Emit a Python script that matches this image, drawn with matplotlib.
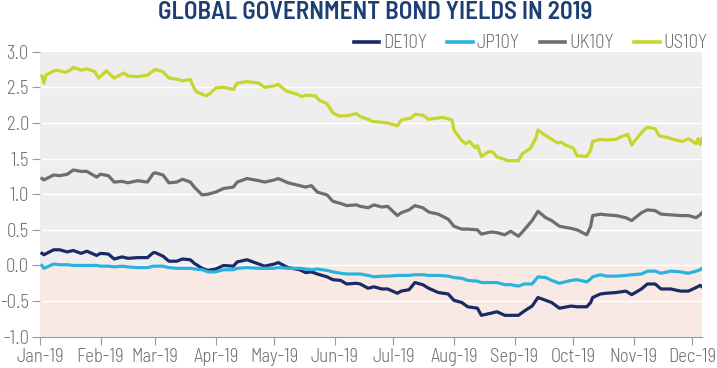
import matplotlib
matplotlib.use("Agg")
import matplotlib.pyplot as plt
import matplotlib.dates as mdates
from matplotlib import font_manager
import pandas as pd

# ---------------- data ----------------
us_dates = ["2019-01-02","2019-01-03","2019-01-04","2019-01-08","2019-01-10","2019-01-14","2019-01-17","2019-01-18",
            "2019-01-22","2019-01-25","2019-01-29","2019-01-31","2019-02-04","2019-02-08","2019-02-13","2019-02-15",
            "2019-02-20","2019-02-25","2019-02-28","2019-03-01","2019-03-05","2019-03-08","2019-03-13","2019-03-15",
            "2019-03-19","2019-03-20","2019-03-22","2019-03-27","2019-03-29","2019-04-01","2019-04-05","2019-04-10",
            "2019-04-12","2019-04-17","2019-04-23","2019-04-26","2019-05-01","2019-05-03","2019-05-07","2019-05-13",
            "2019-05-15","2019-05-17","2019-05-22","2019-05-24","2019-05-28","2019-05-31","2019-06-03","2019-06-07",
            "2019-06-12","2019-06-14","2019-06-19","2019-06-20","2019-06-25","2019-06-28","2019-07-03","2019-07-05",
            "2019-07-10","2019-07-12","2019-07-16","2019-07-19","2019-07-24","2019-07-26","2019-07-31","2019-08-01",
            "2019-08-05","2019-08-07","2019-08-09","2019-08-12","2019-08-13","2019-08-15","2019-08-19","2019-08-21",
            "2019-08-23","2019-08-27","2019-08-28","2019-09-03","2019-09-05","2019-09-09","2019-09-12","2019-09-13",
            "2019-09-16","2019-09-19","2019-09-23","2019-09-25","2019-09-27","2019-10-01","2019-10-03","2019-10-08",
            "2019-10-10","2019-10-11","2019-10-15","2019-10-18","2019-10-23","2019-10-25","2019-10-29","2019-10-31",
            "2019-11-01","2019-11-05","2019-11-07","2019-11-08","2019-11-12","2019-11-14","2019-11-19","2019-11-21",
            "2019-11-26","2019-11-29","2019-12-03","2019-12-04","2019-12-05","2019-12-06"]
us10y = [2.66,2.56,2.67,2.73,2.74,2.71,2.75,2.78,2.74,2.76,2.72,2.63,2.73,2.63,2.70,2.66,
         2.65,2.67,2.73,2.75,2.72,2.63,2.61,2.59,2.61,2.54,2.44,2.38,2.41,2.49,2.50,2.47,
         2.56,2.58,2.56,2.50,2.52,2.54,2.45,2.40,2.37,2.39,2.38,2.32,2.27,2.14,2.10,2.10,
         2.13,2.09,2.04,2.02,2.01,2.00,1.96,2.04,2.07,2.12,2.11,2.05,2.07,2.08,2.04,1.90,
         1.75,1.71,1.74,1.65,1.68,1.53,1.60,1.59,1.52,1.49,1.47,1.47,1.57,1.64,1.79,1.90,
         1.84,1.79,1.72,1.73,1.69,1.65,1.54,1.53,1.62,1.74,1.77,1.76,1.77,1.80,1.84,1.69,
         1.73,1.86,1.92,1.94,1.92,1.82,1.79,1.77,1.74,1.78,1.71,1.78,1.70,1.78]

uk_dates = ["2019-01-02","2019-01-03","2019-01-08","2019-01-11","2019-01-15","2019-01-18","2019-01-22","2019-01-25",
            "2019-01-30","2019-02-01","2019-02-05","2019-02-08","2019-02-12","2019-02-15","2019-02-20","2019-02-25",
            "2019-02-28","2019-03-01","2019-03-05","2019-03-08","2019-03-12","2019-03-15","2019-03-19","2019-03-21",
            "2019-03-25","2019-03-28","2019-04-01","2019-04-05","2019-04-10","2019-04-12","2019-04-17","2019-04-23",
            "2019-04-26","2019-05-01","2019-05-03","2019-05-08","2019-05-14","2019-05-17","2019-05-20","2019-05-23",
            "2019-05-28","2019-05-31","2019-06-04","2019-06-07","2019-06-12","2019-06-14","2019-06-18","2019-06-21",
            "2019-06-25","2019-06-28","2019-07-03","2019-07-05","2019-07-09","2019-07-12","2019-07-16","2019-07-19",
            "2019-07-24","2019-07-29","2019-08-01","2019-08-05","2019-08-08","2019-08-13","2019-08-15","2019-08-20",
            "2019-08-23","2019-08-27","2019-08-30","2019-09-03","2019-09-06","2019-09-10","2019-09-13","2019-09-17",
            "2019-09-20","2019-09-24","2019-09-30","2019-10-03","2019-10-08","2019-10-10","2019-10-11","2019-10-15",
            "2019-10-18","2019-10-23","2019-10-28","2019-10-31","2019-11-05","2019-11-08","2019-11-12","2019-11-15",
            "2019-11-20","2019-11-25","2019-11-29","2019-12-03","2019-12-05","2019-12-06"]
uk10y = [1.22,1.20,1.27,1.26,1.28,1.34,1.32,1.32,1.24,1.28,1.26,1.17,1.18,1.16,1.19,1.17,
         1.29,1.30,1.27,1.16,1.17,1.21,1.17,1.10,0.99,1.00,1.03,1.08,1.10,1.17,1.22,1.19,
         1.17,1.20,1.22,1.16,1.12,1.10,1.12,1.03,0.99,0.90,0.87,0.84,0.85,0.83,0.81,0.85,
         0.82,0.83,0.70,0.74,0.78,0.84,0.81,0.75,0.72,0.65,0.55,0.51,0.51,0.50,0.44,0.47,
         0.46,0.43,0.48,0.41,0.50,0.63,0.76,0.67,0.63,0.55,0.52,0.50,0.43,0.55,0.70,0.72,
         0.71,0.70,0.67,0.63,0.74,0.78,0.77,0.72,0.71,0.70,0.70,0.67,0.71,0.74]

de_dates = uk_dates
de10y = [0.17,0.15,0.22,0.22,0.19,0.21,0.17,0.20,0.14,0.17,0.16,0.09,0.12,0.10,0.11,0.11,
         0.18,0.18,0.13,0.06,0.06,0.09,0.08,0.03,-0.04,-0.07,-0.05,0.00,-0.01,0.05,0.08,0.02,
         -0.01,0.02,0.04,-0.03,-0.06,-0.10,-0.09,-0.12,-0.16,-0.20,-0.21,-0.26,-0.25,-0.26,-0.32,-0.30,
         -0.33,-0.33,-0.39,-0.36,-0.34,-0.24,-0.27,-0.32,-0.38,-0.40,-0.49,-0.52,-0.58,-0.60,-0.70,-0.67,
         -0.65,-0.70,-0.70,-0.70,-0.64,-0.57,-0.45,-0.49,-0.52,-0.60,-0.57,-0.58,-0.58,-0.52,-0.45,-0.40,
         -0.39,-0.38,-0.36,-0.41,-0.33,-0.26,-0.26,-0.33,-0.33,-0.36,-0.36,-0.31,-0.28,-0.30]

jp_dates = uk_dates
jp10y = [0.00,-0.04,0.02,0.01,0.01,0.00,0.00,0.00,0.00,-0.01,-0.01,-0.02,-0.01,-0.02,-0.03,-0.03,
         -0.01,-0.01,-0.01,-0.03,-0.04,-0.04,-0.04,-0.05,-0.06,-0.09,-0.09,-0.06,-0.06,-0.04,-0.03,-0.04,
         -0.04,-0.04,-0.03,-0.04,-0.04,-0.05,-0.06,-0.05,-0.07,-0.09,-0.11,-0.12,-0.12,-0.12,-0.14,-0.16,
         -0.15,-0.15,-0.14,-0.14,-0.14,-0.13,-0.13,-0.14,-0.14,-0.15,-0.17,-0.18,-0.21,-0.22,-0.24,-0.24,
         -0.24,-0.27,-0.27,-0.29,-0.26,-0.26,-0.16,-0.17,-0.21,-0.25,-0.21,-0.20,-0.23,-0.19,-0.16,-0.13,
         -0.15,-0.15,-0.14,-0.13,-0.12,-0.08,-0.08,-0.11,-0.08,-0.09,-0.11,-0.08,-0.06,-0.04]

series_names = ["DE10Y", "JP10Y", "UK10Y", "US10Y"]
series_colors = ["#1b2a66", "#2bb3df", "#6e6e70", "#c6d62d"]
title_text = "GLOBAL GOVERNMENT BOND YIELDS IN 2019"
y_ticks = [-1.0, -0.5, 0.0, 0.5, 1.0, 1.5, 2.0, 2.5, 3.0]
x_tick_months = ["2019-01-01","2019-02-01","2019-03-01","2019-04-01","2019-05-01","2019-06-01",
                 "2019-07-01","2019-08-01","2019-09-01","2019-10-01","2019-11-01","2019-12-01"]

# ---------------- fonts ----------------
avail = {f.name for f in font_manager.fontManager.ttflist}
def pick(cands):
    for c in cands:
        if c in avail:
            return c
    return "DejaVu Sans"
body_font = pick(["Barlow Semi Condensed", "Barlow Condensed", "Asap Condensed", "Liberation Sans Narrow"])
title_font = pick(["Barlow Semi Condensed", "Barlow Condensed", "Asap Condensed", "Liberation Sans Narrow"])

plt.rcParams["font.family"] = [body_font, "DejaVu Sans"]
plt.rcParams["font.weight"] = 300

fig = plt.figure(figsize=(7.17, 3.68), dpi=100)
ax = fig.add_axes([40/717, 1-336.7/368, 662/717, (336.7-51.7)/368])

ax.set_facecolor("white")
ax.axhspan(0, 3.0, color="#eeeeee", zorder=0, lw=0)
ax.axhspan(-1.0, 0, color="#f8e9e4", zorder=0, lw=0)
for yv in y_ticks[1:-1]:
    ax.axhline(yv, color="white", lw=1.0, zorder=1)

data = [(de_dates, de10y), (jp_dates, jp10y), (uk_dates, uk10y), (us_dates, us10y)]
for (d, v), name, col in zip(data, series_names, series_colors):
    ax.plot(pd.to_datetime(d), v, color=col, lw=2.3, label=name, zorder=3,
            solid_joinstyle="round")

ax.set_ylim(-1.0, 3.0)
ax.set_xlim(pd.Timestamp("2019-01-01"), pd.Timestamp("2019-12-06"))
ax.set_yticks(y_ticks)
ax.set_yticklabels([f"{t:.1f}" for t in y_ticks])
ax.set_xticks(pd.to_datetime(x_tick_months))
ax.xaxis.set_major_formatter(mdates.DateFormatter("%b-%y"))

for s in ["top", "right"]:
    ax.spines[s].set_visible(False)
ax.spines["left"].set_visible(False)
ax.spines["bottom"].set_color("#9a9a9a")
ax.spines["bottom"].set_linewidth(0.8)
ax.tick_params(axis="both", colors="#9a9a9a", labelcolor="#6f6f6f", labelsize=13.5, length=6, width=0.8)
ax.tick_params(axis="y", pad=2)
ax.tick_params(axis="x", pad=2)
for lab in ax.get_xticklabels() + ax.get_yticklabels():
    lab.set_fontweight(300)

fig.text(0.523, 0.966, title_text, ha="center", va="center", fontsize=18, fontweight=600,
         color="#1d3f73", family=[title_font, "DejaVu Sans"])

leg = ax.legend(loc="center right", bbox_to_anchor=(1.008, 1.03), ncol=4, frameon=False,
                prop={"family": [body_font, "DejaVu Sans"], "weight": 300, "size": 13.5},
                handlelength=1.35, handletextpad=0.2, columnspacing=1.1,
                borderaxespad=0.0, borderpad=0.0)
for t in leg.get_texts():
    t.set_color("#6f6f6f")
for l in leg.get_lines():
    l.set_linewidth(2.6)

fig.savefig("out.png", dpi=100)
